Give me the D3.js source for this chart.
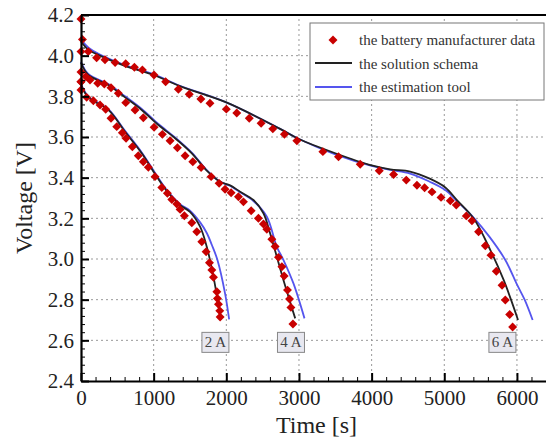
<!DOCTYPE html>
<html>
<head>
<meta charset="utf-8">
<script src="https://cdn.jsdelivr.net/npm/d3@7"></script>
<style>
  body { margin: 0; background: #fff; }
  svg text { font-family: "Liberation Serif", "DejaVu Serif", serif; }
</style>
</head>
<body>
<svg id="chart" width="546" height="442"></svg>
<script>
// discharge curves, [time s, voltage V]
const data2A = [[0,3.872],[0,3.831],[78,3.795],[170,3.778],[262,3.757],[340,3.736],[413,3.692],[492,3.651],[569,3.621],[620,3.594],[707,3.552],[789,3.508],[858,3.478],[927,3.451],[1019,3.405],[1112,3.352],[1189,3.323],[1250,3.293],[1319,3.27],[1364,3.244],[1423,3.213],[1525,3.178],[1594,3.134],[1663,3.085],[1722,3.036],[1768,2.982],[1801,2.946],[1823,2.91],[1870,2.839],[1878,2.806],[1892,2.777],[1910,2.745],[1915,2.715]]
const data4A = [[0,3.92],[0,3.872],[65,3.897],[124,3.88],[230,3.864],[321,3.861],[413,3.842],[514,3.815],[616,3.769],[744,3.733],[858,3.695],[1006,3.648],[1120,3.613],[1226,3.582],[1327,3.547],[1433,3.508],[1539,3.478],[1653,3.45],[1791,3.405],[1901,3.372],[1983,3.343],[2066,3.326],[2167,3.306],[2236,3.281],[2342,3.237],[2442,3.2],[2511,3.172],[2558,3.146],[2627,3.097],[2672,3.061],[2718,3.008],[2765,2.962],[2796,2.916],[2842,2.847],[2870,2.803],[2889,2.762],[2917,2.68]]
const data6A = [[0,4.18],[20,4.08],[0,4.02],[100,4.02],[215,3.99],[330,3.98],[470,3.966],[615,3.96],[735,3.943],[845,3.93],[1005,3.905],[1165,3.872],[1340,3.835],[1490,3.81],[1650,3.787],[1775,3.766],[2000,3.737],[2144,3.718],[2316,3.692],[2479,3.668],[2640,3.64],[2800,3.614],[2971,3.582],[3329,3.528],[3544,3.503],[3843,3.466],[4105,3.434],[4302,3.416],[4477,3.388],[4624,3.363],[4729,3.35],[4831,3.33],[4955,3.303],[5083,3.286],[5165,3.265],[5303,3.212],[5381,3.188],[5472,3.134],[5565,3.065],[5643,3.019],[5716,2.94],[5795,2.871],[5840,2.798],[5900,2.727],[5941,2.666]]

const solution2A = [[0,3.856],[100,3.795],[376,3.733],[606,3.626],[836,3.52],[1043,3.405],[1200,3.325],[1364,3.265],[1500,3.232],[1639,3.159],[1731,3.06],[1823,2.913],[1924,2.7]]
const solution4A = [[0,3.965],[100,3.905],[376,3.856],[606,3.795],[836,3.733],[1065,3.659],[1295,3.594],[1525,3.52],[1731,3.435],[1915,3.38],[2052,3.362],[2190,3.331],[2373,3.29],[2511,3.225],[2603,3.126],[2695,3.011],[2787,2.896],[2948,2.708]]
const solution6A = [[0,4.07],[100,4.03],[260,4.0],[630,3.946],[1000,3.905],[1360,3.85],[2000,3.77],[2740,3.64],[3000,3.59],[3500,3.52],[4000,3.46],[4256,3.441],[4530,3.43],[4800,3.395],[5014,3.352],[5174,3.29],[5403,3.2],[5634,3.044],[5817,2.897],[5918,2.8],[6015,2.7]]

const estimation2A = [[0,3.86],[100,3.8],[376,3.737],[606,3.63],[836,3.524],[1043,3.41],[1200,3.33],[1364,3.27],[1500,3.238],[1640,3.18],[1731,3.128],[1800,3.07],[1878,2.995],[1983,2.83],[2039,2.703]]
const estimation4A = [[0,3.97],[100,3.91],[376,3.86],[606,3.8],[836,3.738],[1065,3.664],[1295,3.598],[1525,3.523],[1731,3.437],[1915,3.38],[2052,3.36],[2190,3.328],[2373,3.285],[2558,3.208],[2695,3.06],[2787,2.995],[2924,2.88],[3076,2.708]]
const estimation6A = [[0,4.08],[100,4.04],[260,4.005],[630,3.95],[1000,3.908],[1360,3.852],[2000,3.77],[2740,3.64],[3000,3.59],[3500,3.515],[4000,3.458],[4256,3.438],[4530,3.42],[4800,3.38],[5014,3.339],[5174,3.285],[5400,3.205],[5620,3.11],[5840,2.995],[6000,2.875],[6106,2.8],[6216,2.7]]

const currentLabels = ['2 A', '4 A', '6 A']
const labelTimes = [1850, 2890, 5800]
const labelVolt = 2.59

const legendNames = ['the battery manufacturer data', 'the solution schema', 'the estimation tool']

const xTickValues = [0, 1000, 2000, 3000, 4000, 5000, 6000]
const yTickValues = [2.4, 2.6, 2.8, 3.0, 3.2, 3.4, 3.6, 3.8, 4.0, 4.2]

const svg = d3.select('#chart')

const margin = { top: 15, right: 0, bottom: 61, left: 81 }
const width = 546 - (margin.left + margin.right)
const height = 442 - (margin.top + margin.bottom)

const x = d3.scaleLinear().domain([0, 6400]).range([margin.left, margin.left + width])
const y = d3.scaleLinear().domain([2.4, 4.2]).range([margin.top + height, margin.top])

const red = '#c80000'
const black = '#222'
const blue = '#5555ee'

// grid
const grid = svg.append('g')
grid.selectAll('.gx')
  .data(xTickValues.slice(1))
  .enter()
  .append('line')
  .attr('x1', d => x(d)).attr('x2', d => x(d))
  .attr('y1', y(2.4)).attr('y2', y(4.2))
grid.selectAll('.gy')
  .data(yTickValues.slice(1, -1))
  .enter()
  .append('line')
  .attr('x1', x(0)).attr('x2', x(6400))
  .attr('y1', d => y(d)).attr('y2', d => y(d))
grid.selectAll('line')
  .attr('stroke', '#999')
  .attr('stroke-width', 1)
  .attr('stroke-dasharray', '2,3')

// curves
const line = d3.line()
  .x(d => x(d[0]))
  .y(d => y(d[1]))
  .curve(d3.curveCatmullRom.alpha(0.5))

const curves = svg.append('g')
;[estimation2A, estimation4A, estimation6A].forEach(s => {
  curves.append('path').attr('d', line(s)).attr('fill', 'none').attr('stroke', blue).attr('stroke-width', 1.8)
})
;[solution2A, solution4A, solution6A].forEach(s => {
  curves.append('path').attr('d', line(s)).attr('fill', 'none').attr('stroke', black).attr('stroke-width', 1.8)
})

const diamond = d3.symbol().type(d3.symbolSquare).size(40)
const marks = svg.append('g')
;[data2A, data4A, data6A].forEach(s => {
  marks.selectAll(null)
    .data(s)
    .enter()
    .append('path')
    .attr('d', diamond)
    .attr('transform', d => `translate(${x(d[0])},${y(d[1])}) rotate(45)`)
    .attr('fill', red)
})

// current labels
const tags = svg.append('g')
  .selectAll('g')
  .data(currentLabels)
  .enter()
  .append('g')
  .attr('transform', (d, i) => `translate(${x(labelTimes[i])},${y(labelVolt)})`)
tags.append('rect')
  .attr('x', -13.5).attr('y', -10).attr('width', 27).attr('height', 20)
  .attr('fill', '#e8e8f0').attr('stroke', '#888').attr('stroke-width', 1)
tags.append('text')
  .text(d => d)
  .attr('text-anchor', 'middle')
  .attr('y', 5)
  .attr('font-size', 15)
  .attr('fill', '#444')

// axes
const xAxis = svg.append('g')
  .attr('transform', `translate(0, ${margin.top + height})`)
  .call(d3.axisBottom(x).tickValues(xTickValues).tickFormat(d3.format('d')).tickSizeInner(-8).tickSizeOuter(0).tickPadding(9))
const xMinor = svg.append('g')
  .attr('transform', `translate(0, ${margin.top + height})`)
  .call(d3.axisBottom(x).tickValues(d3.range(200, 6400, 200).filter(v => v % 1000 !== 0)).tickSize(-4).tickFormat(''))
const yAxis = svg.append('g')
  .attr('transform', `translate(${margin.left}, 0)`)
  .call(d3.axisLeft(y).tickValues(yTickValues).tickFormat(d3.format('.1f')).tickSizeInner(-8).tickSizeOuter(0).tickPadding(9))
const yMinor = svg.append('g')
  .attr('transform', `translate(${margin.left}, 0)`)
  .call(d3.axisLeft(y).tickValues(d3.range(0, 45).map(i => 2.4 + i * 0.04)).tickSize(-4).tickFormat(''))

;[xAxis, yAxis].forEach(a => {
  a.attr('font-family', null)
  a.select('.domain').attr('stroke', '#000').attr('stroke-width', 2.2)
  a.selectAll('.tick line').attr('stroke', '#000').attr('stroke-width', 2)
  a.selectAll('.tick text').attr('font-size', 21).attr('fill', '#222')
})
;[xMinor, yMinor].forEach(a => {
  a.select('.domain').remove()
  a.selectAll('.tick line').attr('stroke', '#000').attr('stroke-width', 1)
})
yAxis.selectAll('.tick text').attr('dx', 2)

// top frame
svg.append('line')
  .attr('x1', x(0)).attr('x2', x(6400))
  .attr('y1', y(4.2)).attr('y2', y(4.2))
  .attr('stroke', '#000').attr('stroke-width', 2.2)

// axis titles
svg.append('text')
  .text('Time [s]')
  .attr('x', margin.left + width / 2 + 3)
  .attr('y', 433)
  .attr('text-anchor', 'middle')
  .attr('font-size', 24)
  .attr('fill', '#222')
svg.append('text')
  .text('Voltage [V]')
  .attr('transform', `translate(32, ${margin.top + height / 2}) rotate(-90)`)
  .attr('text-anchor', 'middle')
  .attr('font-size', 24)
  .attr('fill', '#222')

// legend
const legend = svg.append('g').attr('transform', 'translate(310, 23)')
legend.append('rect')
  .attr('width', 234).attr('height', 77)
  .attr('fill', '#fff').attr('stroke', '#777').attr('stroke-width', 1)
legend.append('path')
  .attr('d', diamond)
  .attr('transform', 'translate(23, 17) rotate(45)')
  .attr('fill', red)
legend.append('line').attr('x1', 5).attr('x2', 42).attr('y1', 40).attr('y2', 40).attr('stroke', black).attr('stroke-width', 2)
legend.append('line').attr('x1', 5).attr('x2', 42).attr('y1', 64).attr('y2', 64).attr('stroke', blue).attr('stroke-width', 2)
legend.selectAll('text')
  .data(legendNames)
  .enter()
  .append('text')
  .text(d => d)
  .attr('x', 49)
  .attr('y', (d, i) => 22 + i * 23.5)
  .attr('font-size', 15)
  .attr('fill', '#333')
</script>
</body>
</html>
